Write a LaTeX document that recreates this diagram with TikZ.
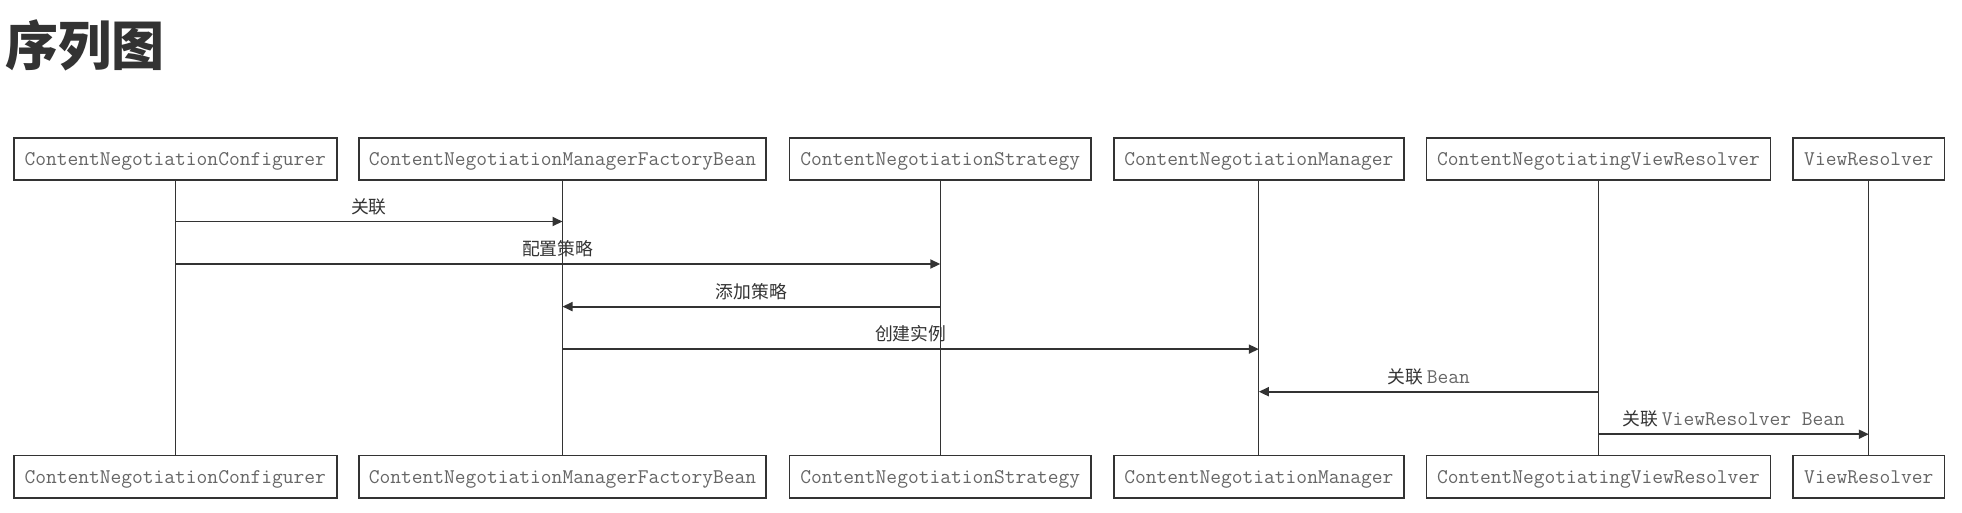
\documentclass[tikz,border=0pt]{standalone}
\usepackage{fontspec}
\newfontfamily\cjk{Noto Sans CJK SC}
\usetikzlibrary{arrows.meta}
\definecolor{ink}{HTML}{333333}
\definecolor{txt}{HTML}{666666}
\tikzset{
  box/.style={draw=ink, line width=1.8pt, minimum height=42.6pt, inner sep=0pt,
    text height=13pt, text depth=0.5pt,
    font=\ttfamily\fontsize{20.9}{22}\selectfont, text=txt, fill=white},
  life/.style={draw=ink, line width=1.3pt},
  msg/.style={draw=ink, line width=1.8pt, -{Triangle[length=10pt,width=9pt]}},
  lbl/.style={font=\cjk\fontsize{17.8}{20}\selectfont, text=ink, inner sep=0pt},
}
\newcommand{\mtxt}[1]{{\ttfamily\fontsize{20.9}{22}\selectfont\color{txt}#1}}
\begin{document}
\begin{tikzpicture}[x=1pt,y=-1pt]
\useasboundingbox (0,0) rectangle (1962,512);
\node[anchor=west, font=\cjk\bfseries\fontsize{53}{60}\selectfont, text=ink, inner sep=0pt] (title) at (5,45) {序列图};
% top boxes
\node[box, minimum width=322.8pt] (t1) at (175.2,158.9) {ContentNegotiationConfigurer};
\node[box, minimum width=406.7pt] (t2) at (562.5,158.9) {ContentNegotiationManagerFactoryBean};
\node[box, minimum width=301.5pt] (t3) at (940.3,158.9) {ContentNegotiationStrategy};
\node[box, minimum width=290.3pt] (t4) at (1258.8,158.9) {ContentNegotiationManager};
\node[box, minimum width=344.1pt] (t5) at (1598.5,158.9) {ContentNegotiatingViewResolver};
\node[box, minimum width=151.4pt] (t6) at (1868.8,158.9) {ViewResolver};
% bottom boxes
\node[box, minimum width=322.8pt] (b1) at (175.2,476.8) {ContentNegotiationConfigurer};
\node[box, minimum width=406.7pt] (b2) at (562.5,476.8) {ContentNegotiationManagerFactoryBean};
\node[box, minimum width=301.5pt] (b3) at (940.3,476.8) {ContentNegotiationStrategy};
\node[box, minimum width=290.3pt] (b4) at (1258.8,476.8) {ContentNegotiationManager};
\node[box, minimum width=344.1pt] (b5) at (1598.5,476.8) {ContentNegotiatingViewResolver};
\node[box, minimum width=151.4pt] (b6) at (1868.8,476.8) {ViewResolver};
% lifelines
\foreach \i in {1,...,6} { \draw[life] (t\i.south) -- (b\i.north); }
% messages
\draw[msg] (t1.south |- 0,221.5) -- (t2.south |- 0,221.5) node[lbl, midway, above=6pt] (l1) {关联};
\draw[msg] (t1.south |- 0,264) -- (t3.south |- 0,264) node[lbl, midway, above=6pt] (l2) {配置策略};
\draw[msg] (t3.south |- 0,306.6) -- (t2.south |- 0,306.6) node[lbl, midway, above=6pt] (l3) {添加策略};
\draw[msg] (t2.south |- 0,349.1) -- (t4.south |- 0,349.1) node[lbl, midway, above=6pt] (l4) {创建实例};
\draw[msg] (t5.south |- 0,391.7) -- (t4.south |- 0,391.7) node[lbl, midway, above=6pt] (l5) {关联 \mtxt{Bean}};
\draw[msg] (t5.south |- 0,434.2) -- (t6.south |- 0,434.2) node[lbl, midway, above=6pt] (l6) {关联 \mtxt{ViewResolver Bean}};
\end{tikzpicture}
\end{document}
